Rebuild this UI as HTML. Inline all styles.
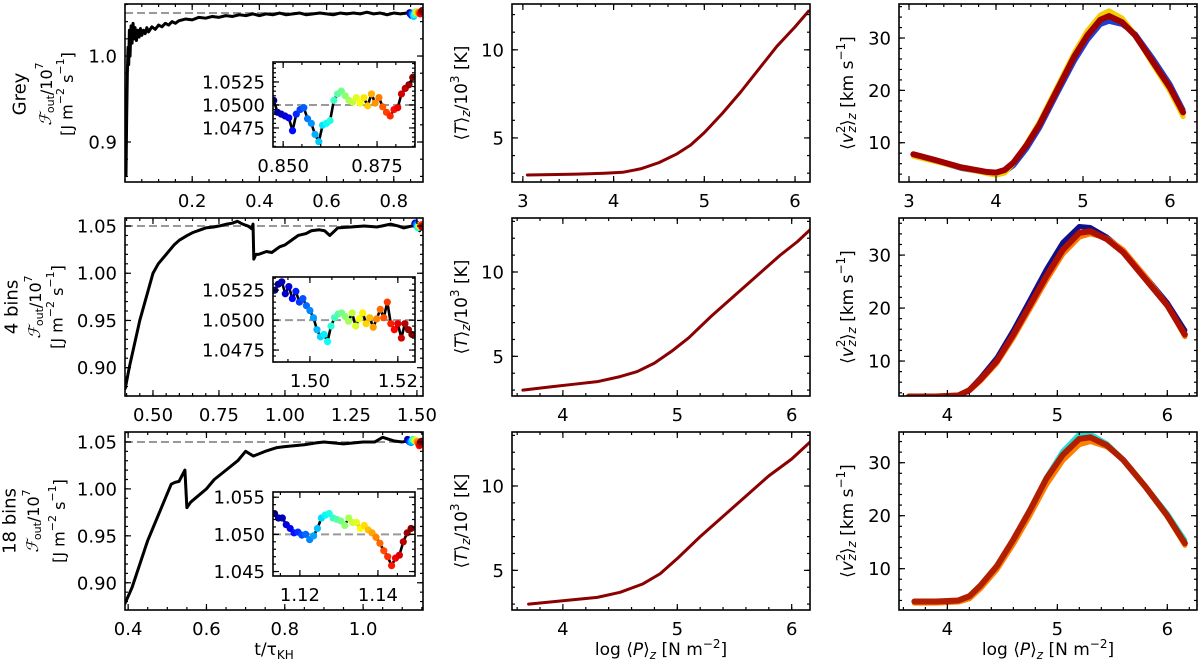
<!DOCTYPE html>
<html><head><meta charset="utf-8">
<style>
html,body{margin:0;padding:0;background:#fff;}
svg{display:block;font-family:"DejaVu Sans","Liberation Sans",sans-serif;}
</style></head>
<body>
<svg id="fig" width="1200" height="667" viewBox="0 0 1200 667" xmlns="http://www.w3.org/2000/svg"></svg>
<script>
// ---------- Column 1: outgoing flux time series ----------
const greyT=[0.003,0.005,0.007,0.009,0.011,0.013,0.015,0.018,0.021,0.024,0.027,0.03,0.034,0.038,0.042,0.046,0.05,0.055,0.06,0.065,0.07,0.08,0.09,0.1,0.11,0.12,0.13,0.14,0.15,0.16,0.18,0.2,0.22,0.24,0.26,0.28,0.3,0.32,0.34,0.36,0.38,0.4,0.42,0.44,0.46,0.48,0.5,0.52,0.54,0.56,0.58,0.6,0.62,0.64,0.66,0.68,0.7,0.72,0.74,0.76,0.78,0.8,0.82,0.84,0.86,0.885];
const greyF=[0.862,0.93,0.98,1.01,0.99,1.03,1.0,1.035,1.015,1.038,1.02,1.033,1.018,1.03,1.022,1.032,1.024,1.03,1.026,1.033,1.028,1.034,1.031,1.036,1.034,1.038,1.036,1.04,1.038,1.041,1.043,1.042,1.045,1.044,1.046,1.045,1.047,1.046,1.048,1.047,1.049,1.047,1.049,1.048,1.05,1.048,1.049,1.05,1.048,1.049,1.05,1.049,1.048,1.05,1.049,1.05,1.049,1.051,1.049,1.05,1.048,1.05,1.049,1.05,1.049,1.05];
const bins4T=[0.395,0.41,0.43,0.45,0.47,0.49,0.5,0.52,0.55,0.58,0.6,0.63,0.65,0.68,0.7,0.73,0.75,0.78,0.8,0.82,0.84,0.86,0.875,0.879,0.882,0.89,0.9,0.93,0.95,0.98,1.0,1.03,1.05,1.08,1.1,1.13,1.15,1.17,1.2,1.25,1.3,1.35,1.4,1.43,1.45,1.48,1.5,1.51,1.52];
const bins4F=[0.878,0.9,0.925,0.95,0.97,0.99,1.0,1.01,1.02,1.03,1.035,1.04,1.043,1.046,1.048,1.049,1.05,1.052,1.053,1.055,1.052,1.05,1.047,1.052,1.015,1.02,1.02,1.023,1.022,1.028,1.03,1.036,1.04,1.042,1.045,1.046,1.045,1.04,1.048,1.049,1.05,1.049,1.052,1.05,1.048,1.05,1.05,1.045,1.05];
const bins18T=[0.392,0.41,0.43,0.45,0.47,0.49,0.5,0.51,0.52,0.53,0.545,0.55,0.56,0.58,0.6,0.62,0.65,0.68,0.7,0.72,0.75,0.78,0.8,0.85,0.88,0.9,0.95,1.0,1.03,1.05,1.08,1.1,1.13,1.15];
const bins18F=[0.878,0.895,0.92,0.945,0.965,0.985,0.995,1.005,1.007,1.008,1.02,0.98,0.986,0.993,1.0,1.01,1.02,1.03,1.04,1.035,1.04,1.044,1.045,1.047,1.049,1.05,1.048,1.05,1.05,1.055,1.051,1.05,1.052,1.048];
// insets
const insGreyT=[0.8475,0.8485,0.8495,0.8505,0.8515,0.8525,0.8535,0.8545,0.8555,0.8565,0.8575,0.8585,0.8595,0.8605,0.8615,0.8625,0.8635,0.8645,0.8655,0.8665,0.8675,0.8685,0.8695,0.8705,0.8715,0.8725,0.8735,0.8745,0.8755,0.8765,0.8775,0.8785,0.8795,0.8805,0.8815,0.8825,0.8835,0.8845];
const insGreyF=[1.0505,1.0492,1.049,1.0488,1.0486,1.0472,1.049,1.0495,1.0497,1.0485,1.048,1.0468,1.046,1.0478,1.048,1.0483,1.0505,1.0512,1.0515,1.051,1.0505,1.0503,1.0508,1.0502,1.0508,1.0499,1.0512,1.0502,1.0508,1.0498,1.0492,1.0488,1.0495,1.0497,1.0512,1.0518,1.0522,1.053];
const ins4T=[1.4920,1.4928,1.4936,1.4944,1.4952,1.4960,1.4968,1.4976,1.4984,1.4992,1.5000,1.5008,1.5016,1.5024,1.5032,1.5040,1.5048,1.5056,1.5064,1.5072,1.5080,1.5088,1.5096,1.5104,1.5112,1.5120,1.5128,1.5136,1.5144,1.5152,1.5160,1.5168,1.5176,1.5184,1.5192,1.5200,1.5208,1.5216,1.5224,1.5232];
const ins4F=[1.0525,1.053,1.0532,1.0522,1.0528,1.0518,1.0524,1.0515,1.0518,1.0512,1.0508,1.0502,1.0492,1.0486,1.0488,1.0482,1.0495,1.0502,1.0505,1.0506,1.0503,1.0499,1.0506,1.0495,1.0501,1.0506,1.0497,1.0502,1.0494,1.0501,1.0509,1.0502,1.0515,1.0497,1.0492,1.0497,1.0485,1.0497,1.0492,1.0488];
const ins18T=[1.1135,1.1145,1.1155,1.1165,1.1175,1.1185,1.1195,1.1205,1.1215,1.1225,1.1235,1.1245,1.1255,1.1265,1.1275,1.1285,1.1295,1.1305,1.1315,1.1325,1.1335,1.1345,1.1355,1.1365,1.1375,1.1385,1.1395,1.1405,1.1415,1.1425,1.1435,1.1445,1.1455,1.1465,1.1475,1.1485];
const ins18F=[1.0528,1.0522,1.0522,1.0513,1.0508,1.0502,1.0503,1.0499,1.05,1.0493,1.0498,1.0508,1.0522,1.0526,1.0528,1.0522,1.052,1.0518,1.0512,1.0522,1.0516,1.0516,1.0508,1.0512,1.0506,1.0502,1.0496,1.0488,1.0478,1.047,1.0458,1.0468,1.0472,1.049,1.0502,1.0508];
// ---------- Column 2: temperature profiles ----------
const tP1=[3.05,3.3,3.6,3.9,4.1,4.3,4.5,4.7,4.85,5.0,5.2,5.4,5.6,5.8,6.0,6.15];
const tT1=[2.9,2.92,2.95,3.0,3.05,3.25,3.6,4.1,4.6,5.3,6.4,7.6,8.9,10.2,11.3,12.2];
const tP2=[3.65,3.9,4.1,4.3,4.5,4.65,4.8,4.95,5.1,5.3,5.5,5.7,5.9,6.05,6.16];
const tT2=[3.0,3.2,3.35,3.5,3.8,4.1,4.6,5.3,6.1,7.4,8.6,9.8,11.0,11.8,12.5];
const tP3=[3.7,4.0,4.3,4.5,4.7,4.85,5.0,5.2,5.4,5.6,5.8,6.0,6.16];
const tT3=[3.0,3.2,3.4,3.7,4.2,4.8,5.7,7.0,8.2,9.4,10.6,11.6,12.6];
// ---------- Column 3: velocity profiles ----------
const vP1=[3.05,3.3,3.6,3.9,4.0,4.1,4.2,4.35,4.5,4.7,4.9,5.05,5.2,5.3,5.45,5.6,5.8,6.0,6.15];
const vRed1=[7.8,6.7,5.3,4.4,4.3,4.8,6.2,9.5,13.5,20,26.5,30.5,33.5,34.2,33,30.5,25.5,20.5,15.8];
const vBlue1=[7.5,6.5,5.1,4.2,4.1,4.4,5.6,8.8,12.8,19.3,25.6,29.6,32.6,33.2,32.6,30.8,26.2,21.2,16.3];
const vYellow1=[7.4,6.4,5.2,4.1,3.8,4.2,6.0,9.8,14,20.6,27.2,31.4,34.4,35.2,33.8,30.6,25,19.8,15];
const vP2=[3.65,3.9,4.1,4.2,4.3,4.45,4.6,4.75,4.9,5.05,5.2,5.3,5.45,5.6,5.8,6.0,6.16];
const vRed2=[3.3,3.3,3.5,4.5,6.5,10,15,20.5,26,31,34.2,34.5,33,30.5,25.5,20.5,15];
const vBlue2=[3.2,3.2,3.4,4.6,6.8,10.6,15.8,21.5,27.3,32.4,35.4,35.2,33.4,30.8,26,21,15.8];
const vOrange2=[3.4,3.4,3.6,4.4,6.2,9.6,14.4,19.8,25.2,30.2,33.4,34,33.2,31,26,20.6,14.6];
const vP3=[3.7,3.9,4.1,4.2,4.3,4.45,4.6,4.75,4.9,5.05,5.2,5.3,5.45,5.6,5.8,6.0,6.16];
const vRed3=[3.8,3.8,4.0,4.8,6.8,10.5,15.5,21,27,31.5,34.5,34.8,33.3,30.5,25.5,20,14.8];
const vCyan3=[3.6,3.6,3.9,4.6,6.6,10.2,15.2,20.8,27.2,32.2,35.4,35.4,33.6,30.6,25.6,20.4,15.4];
const vOrange3=[3.5,3.5,3.7,4.3,6.2,9.8,14.6,20,25.8,30.4,33.4,34,33,30.6,25.4,19.8,14.4];
// tick labels
const xt1=[0.2,0.4,0.6,0.8], xt2=[0.5,0.75,1.0,1.25,1.5], xt3=[0.4,0.6,0.8,1.0];
const yt1=[0.9,1.0], yt23=[0.9,0.95,1.0,1.05];
const pxtA=[3,4,5,6], pxtB=[4,5,6], tyt=[5,10], vyt=[10,20,30];

const NS="http://www.w3.org/2000/svg";
const svg=document.getElementById('fig');
function el(tag,attrs,parent){const e=document.createElementNS(NS,tag);for(const k in attrs)e.setAttribute(k,attrs[k]);(parent||svg).appendChild(e);return e;}
function jet(v){const r=Math.min(Math.max(Math.min(4*v-1.5,-4*v+4.5),0),1),g=Math.min(Math.max(Math.min(4*v-0.5,-4*v+3.5),0),1),b=Math.min(Math.max(Math.min(4*v+0.5,-4*v+2.5),0),1);return `rgb(${Math.round(r*255)},${Math.round(g*255)},${Math.round(b*255)})`;}

function axes(name,c){
  const g=el('g',{});
  
  
  c.sx=v=>c.x0+(v-c.xmin)/(c.xmax-c.xmin)*c.w;
  c.sy=v=>c.y0+c.h-(v-c.ymin)/(c.ymax-c.ymin)*c.h;
  c.g=g;
  if(c.bg){const bgr=el('rect',{x:c.x0,y:c.y0,width:c.w,height:c.h,fill:'#fff'},g);}
  return c;
}
function frame(c,name){
  const g=c.g, fs=c.fs||18;
  const tk=(x1,y1,x2,y2)=>el('line',{x1,y1,x2,y2,stroke:'#000','stroke-width':1.2},g);
  if(c.xminor){const s=Math.ceil(c.xmin/c.xminor-1e-9);for(let i=s;i*c.xminor<=c.xmax+1e-9;i++){const x=c.sx(i*c.xminor);tk(x,c.y0+c.h,x,c.y0+c.h-3);tk(x,c.y0,x,c.y0+3);}}
  if(c.yminor){const s=Math.ceil(c.ymin/c.yminor-1e-9);for(let i=s;i*c.yminor<=c.ymax+1e-9;i++){const y=c.sy(i*c.yminor);tk(c.x0,y,c.x0+3,y);tk(c.x0+c.w,y,c.x0+c.w-3,y);}}
  c.xt.forEach(v=>{const x=c.sx(v);tk(x,c.y0+c.h,x,c.y0+c.h-6);tk(x,c.y0,x,c.y0+6);
    const t=el('text',{x:x,y:c.y0+c.h+25,'font-size':fs,'text-anchor':'middle'},g);t.textContent=c.xf(v);
    });
  c.yt.forEach(v=>{const y=c.sy(v);tk(c.x0,y,c.x0+6,y);tk(c.x0+c.w,y,c.x0+c.w-6,y);
    const t=el('text',{x:c.x0-8,y:y+6.5,'font-size':fs,'text-anchor':'end'},g);t.textContent=c.yf(v);
    });
  const r=el('rect',{x:c.x0,y:c.y0,width:c.w,height:c.h,fill:'none',stroke:'#000','stroke-width':1.6},g);
  
}
function line(c,xs,ys,color,w,name){
  const d=xs.map((x,i)=>(i?'L':'M')+c.sx(x).toFixed(2)+','+c.sy(ys[i]).toFixed(2)).join('');
  const p=el('path',{d,fill:'none',stroke:color,'stroke-width':w,'stroke-linejoin':'round','stroke-linecap':'round'},c.g);
  return p;
}
function hline(c,v,name){const l=el('line',{x1:c.x0,x2:c.x0+c.w,y1:c.sy(v),y2:c.sy(v),stroke:'#999','stroke-width':2,'stroke-dasharray':'8,4'},c.g);
  }
function dots(c,xs,ys,r,name){xs.forEach((x,i)=>{if(x<c.xmin||x>c.xmax+1e-6)return;const d=el('circle',{cx:c.sx(x),cy:c.sy(ys[i]),r:r,fill:jet(i/(xs.length-1))},c.g);
  });}
function clip(c,id){const cp=el('clipPath',{id},svg);el('rect',{x:c.x0,y:c.y0,width:c.w,height:c.h},cp);const g=el('g',{'clip-path':`url(#${id})`},c.g);return g;}

const f1=v=>v.toFixed(1), f2=v=>v.toFixed(2), f3=v=>v.toFixed(3), f4=v=>v.toFixed(4), f0=v=>String(v);

function fluxPanel(row,y0,T,F,xmin,xmax,xt,xf,xminor,ymin,ymax,yt,yf,yminor,ins,insT,insF){
  const name='flux-panel-'+row;
  const c=axes(name,{x0:125,y0:y0,w:298,h:178,xmin,xmax,ymin,ymax,xt,yt,xf,yf,xminor,yminor});
  const inner=clip(c,'cp'+row); const og=c.g; c.g=inner;
  hline(c,1.05,name+'-reference-line');
  line(c,T,F,'#000',3,name+'-flux-line');
  dots(c,insT,insF,3.5,name+'-end-marker');
  c.g=og; frame(c,name);
  const n=axes(name+'-inset',Object.assign({x0:273,w:142,bg:true,fs:18},ins));
  const ig=clip(n,'ci'+row); const og2=n.g; n.g=ig;
  hline(n,1.05,name+'-inset-reference-line');
  line(n,insT,insF,'#000',2.6,name+'-inset-flux-line');
  dots(n,insT,insF,3.6,name+'-inset-marker');
  n.g=og2; frame(n,name+'-inset');
}
fluxPanel(1,4,greyT,greyF,0,0.887,xt1,f1,0.05,0.8535,1.0605,yt1,f1,0.02,
  {y0:62,h:85,xmin:0.8473,xmax:0.8851,ymin:1.04543,ymax:1.05467,xt:[0.85,0.875],yt:[1.0475,1.05,1.0525],xf:f3,yf:f4,xminor:0.005,yminor:0.0005},insGreyT,insGreyF);
fluxPanel(2,218,bins4T,bins4F,0.394,1.523,xt2,f2,0.05,0.870,1.0585,yt23,f2,0.01,
  {y0:277,h:85,xmin:1.4916,xmax:1.5239,ymin:1.0465,ymax:1.0536,xt:[1.5,1.52],yt:[1.0475,1.05,1.0525],xf:f2,yf:f4,xminor:0.005,yminor:0.0005},ins4T,ins4F);
fluxPanel(3,432,bins18T,bins18F,0.392,1.153,xt3,f1,0.05,0.871,1.0606,yt23,f2,0.01,
  {y0:492,h:84,xmin:1.1131,xmax:1.1495,ymin:1.0444,ymax:1.0557,xt:[1.12,1.14],yt:[1.045,1.05,1.055],xf:f2,yf:f3,xminor:0.005,yminor:0.001},ins18T,ins18F);

function tempPanel(row,y0,P,T,xmin,xmax,xt,ymin,ymax){
  const name='temperature-panel-'+row;
  const c=axes(name,{x0:512,y0,w:298,h:178,xmin,xmax,ymin,ymax,xt,yt:tyt,xf:f0,yf:f0,xminor:0.2,yminor:1});
  const og=c.g;c.g=clip(c,'ct'+row);
  line(c,P,T,'#8b0000',3,name+'-temperature-line');
  c.g=og;frame(c,name);
}
tempPanel(1,4,tP1,tT1,2.88,6.165,pxtA,2.5,12.6);
tempPanel(2,218,tP2,tT2,3.555,6.16,pxtB,2.65,13.2);
tempPanel(3,432,tP3,tT3,3.555,6.16,pxtB,2.65,13.2);

function velPanel(row,y0,P,series,colors,xmin,xmax,xt,ymin,ymax){
  const name='velocity-panel-'+row;
  const c=axes(name,{x0:899,y0,w:298,h:178,xmin,xmax,ymin,ymax,xt,yt:vyt,xf:f0,yf:f0,xminor:0.2,yminor:2});
  const og=c.g;c.g=clip(c,'cv'+row);
  series.forEach((s,i)=>line(c,P,s,colors[i],i===series.length-1?6:5,name+'-velocity-line'));
  c.g=og;frame(c,name);
}
velPanel(1,4,vP1,[vBlue1,vYellow1,vRed1],['#1f3fd0','#f0d000','#a00000'],2.885,6.31,pxtA,2.5,36.5);
velPanel(2,218,vP2,[vBlue2,vOrange2,vRed2],['#10108a','#ff7a00','#b01000'],3.56,6.27,pxtB,3.4,37);
velPanel(3,432,vP3,[vCyan3,vOrange3,vRed3],['#20e0e0','#ff8000','#b02000'],3.56,6.27,pxtB,2.2,35.8);

function rtext(x,y,html,name,fs){const t=el('text',{x:0,y:0,'font-size':fs||18,'text-anchor':'middle','dominant-baseline':'central',transform:`translate(${x},${y}) rotate(-90)`});
  t.innerHTML=html;}
const fl='<tspan font-style="italic" font-family="Liberation Serif,serif">ℱ</tspan><tspan font-size="11" dy="4">out</tspan><tspan dy="-4">/10</tspan><tspan font-size="11" dy="-7">7</tspan>';
const un='[J m<tspan font-size="11" dy="-7">−2</tspan><tspan dy="7"> s</tspan><tspan font-size="11" dy="-7">−1</tspan><tspan dy="7">]</tspan>';
[['Grey',94,20,46,67],['4 bins',307,12,35,57],['18 bins',521,10,33,59]].forEach(r=>{
  rtext(r[2],r[1],r[0],'flux-row-label');
  rtext(r[3],r[1],fl,'flux-y-axis-title',16);
  rtext(r[4],r[1],un,'flux-y-axis-unit',16);
});
[93,307,521].forEach(y=>{
  rtext(462,y,'⟨<tspan font-style="italic">T</tspan>⟩<tspan font-size="12" dy="4" font-style="italic">z</tspan><tspan dy="-4">/10</tspan><tspan font-size="12" dy="-7">3</tspan><tspan dy="7"> [K]</tspan>','temperature-y-axis-title',17);
  rtext(848,y,'⟨<tspan font-style="italic">v</tspan><tspan font-size="12" dy="-7">2</tspan><tspan font-size="12" dx="-7" dy="11" font-style="italic">z</tspan><tspan dy="-4">⟩</tspan><tspan font-size="12" dy="4" font-style="italic">z</tspan><tspan dy="-4"> [km s</tspan><tspan font-size="12" dy="-7">−1</tspan><tspan dy="7">]</tspan>','velocity-y-axis-title',17);
});
function htext(x,y,html,name){const t=el('text',{x,y,'font-size':17,'text-anchor':'middle'});t.innerHTML=html;}
htext(274,655,'t/τ<tspan font-size="12" dy="4">KH</tspan>','time-x-axis-title');
const px='log ⟨<tspan font-style="italic">P</tspan>⟩<tspan font-size="12" dy="4" font-style="italic">z</tspan><tspan dy="-4"> [N m</tspan><tspan font-size="12" dy="-7">−2</tspan><tspan dy="7">]</tspan>';
htext(661,655,px,'temperature-x-axis-title');
htext(1048,655,px,'velocity-x-axis-title');
</script>
</body></html>
